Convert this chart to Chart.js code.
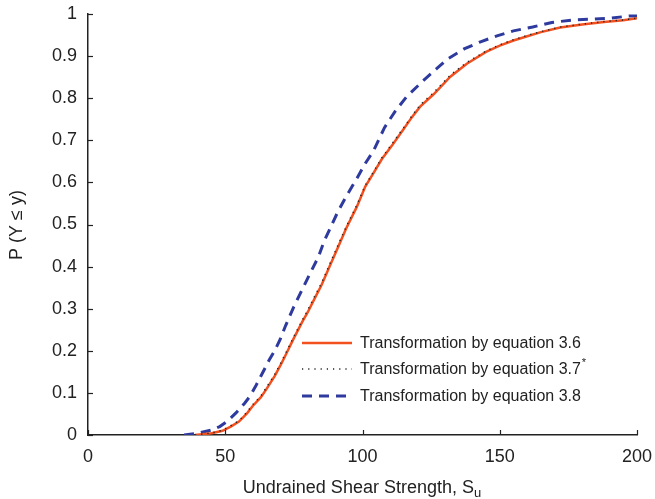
<!DOCTYPE html>
<html>
<head>
<meta charset="utf-8">
<script src="https://cdn.jsdelivr.net/npm/chart.js@4.4.1/dist/chart.umd.min.js"></script>
<style>
  html, body { margin: 0; padding: 0; background: #fff; }
  #wrap { width: 655px; height: 499px; }
</style>
</head>
<body>
<div id="wrap"><canvas id="cdf"></canvas></div>
<script>
// series: empirical CDFs of undrained shear strength
var eq36X = [39, 45, 49, 52, 55, 58, 60, 63, 65, 68, 70, 72, 75, 78, 80, 83, 85, 88, 91, 94, 98, 101, 104, 107, 111, 115, 118, 121, 126, 132, 138, 145, 150, 155, 160, 165, 172, 180, 188, 195, 200];
var eq36Y = [0, 0.004, 0.01, 0.02, 0.032, 0.052, 0.069, 0.09, 0.109, 0.14, 0.164, 0.19, 0.23, 0.268, 0.291, 0.33, 0.355, 0.4, 0.445, 0.49, 0.543, 0.59, 0.622, 0.655, 0.69, 0.727, 0.755, 0.78, 0.81, 0.851, 0.882, 0.91, 0.925, 0.937, 0.947, 0.957, 0.968, 0.975, 0.981, 0.985, 0.99];

var eq37X = [39, 45, 49, 52, 55, 58, 60, 63, 65, 68, 70, 72, 75, 78, 80, 83, 85, 88, 91, 94, 98, 101, 104, 107, 111, 115, 118, 121, 126, 132, 138, 145, 150, 155, 160, 165, 172, 180, 188, 195, 200];
var eq37Y = [0, 0.005, 0.011, 0.022, 0.034, 0.055, 0.072, 0.093, 0.113, 0.144, 0.168, 0.194, 0.234, 0.272, 0.296, 0.335, 0.36, 0.405, 0.45, 0.494, 0.547, 0.593, 0.625, 0.658, 0.694, 0.73, 0.758, 0.784, 0.814, 0.855, 0.885, 0.912, 0.927, 0.939, 0.949, 0.958, 0.969, 0.976, 0.982, 0.986, 0.99];

var eq38X = [35, 40, 45, 48, 51, 54, 57, 59, 61, 63, 66, 68, 70, 72, 75, 78, 81, 84, 86, 88, 91, 94, 98, 101, 104, 108, 112, 116, 122, 127, 131, 137, 143, 149, 155, 162, 169, 177, 184, 190, 197, 200];
var eq38Y = [0, 0.004, 0.012, 0.02, 0.034, 0.053, 0.075, 0.092, 0.115, 0.14, 0.178, 0.2, 0.227, 0.26, 0.305, 0.345, 0.385, 0.424, 0.46, 0.488, 0.53, 0.566, 0.61, 0.645, 0.675, 0.73, 0.77, 0.803, 0.841, 0.87, 0.893, 0.917, 0.934, 0.948, 0.96, 0.969, 0.98, 0.986, 0.988, 0.99, 0.995, 0.995];

var seriesNames = ["Transformation by equation 3.6", "Transformation by equation 3.7", "Transformation by equation 3.8"];
var xTicks = [0, 50, 100, 150, 200];
var yTicks = [0, 0.1, 0.2, 0.3, 0.4, 0.5, 0.6, 0.7, 0.8, 0.9, 1];

function pts(xs, ys) {
  return xs.map(function (x, i) { return { x: x, y: ys[i] }; });
}

var FONT = "'Liberation Sans', Arial, Helvetica, sans-serif";
var TXT = '#222';
var RED = '#f2501f';
var BLUE = '#2e3a9e';

// inward tick marks, axis titles and the in-plot legend
var extras = {
  id: 'extras',
  afterDraw: function (chart) {
    var c = chart.ctx, a = chart.chartArea;
    var xs = chart.scales.x, ys = chart.scales.y;
    c.save();
    c.strokeStyle = TXT;
    c.lineWidth = 1.2;
    xTicks.forEach(function (v) {
      var px = Math.round(xs.getPixelForValue(v)) + 0.5;
      c.beginPath(); c.moveTo(px, a.bottom); c.lineTo(px, a.bottom - 5); c.stroke();
    });
    yTicks.forEach(function (v) {
      var py = Math.round(ys.getPixelForValue(v)) + 0.5;
      c.beginPath(); c.moveTo(a.left, py); c.lineTo(a.left + 5, py); c.stroke();
    });

    // x title with subscript
    c.fillStyle = TXT;
    c.textBaseline = 'alphabetic';
    var main = 'Undrained Shear Strength, S';
    c.font = '13px ' + FONT;
    var subW = c.measureText('u').width;
    c.font = '18px ' + FONT;
    var mainW = c.measureText(main).width;
    var x0 = 362 - (mainW + subW) / 2;
    c.textAlign = 'left';
    c.fillText(main, x0, 493);
    c.font = '13px ' + FONT;
    c.fillText('u', x0 + mainW, 497);

    // y title
    c.save();
    c.translate(17, 225);
    c.rotate(-Math.PI / 2);
    c.textAlign = 'center';
    c.textBaseline = 'middle';
    c.font = '18px ' + FONT;
    c.fillText('P (Y \u2264 y)', 0, 0);
    c.restore();

    // legend
    var lx = 302, tx = 360, rows = [343, 369, 396];
    var styles = [
      { color: RED, width: 2.5, dash: [] },
      { color: '#222', width: 1.5, dash: [1.2, 5] },
      { color: BLUE, width: 3, dash: [10, 7] }
    ];
    rows.forEach(function (ry, i) {
      var s = styles[i];
      c.strokeStyle = s.color;
      c.lineWidth = s.width;
      c.setLineDash(s.dash);
      c.beginPath(); c.moveTo(lx, ry); c.lineTo(lx + 50, ry); c.stroke();
      c.setLineDash([]);
      c.fillStyle = TXT;
      c.font = '16px ' + FONT;
      c.textAlign = 'left';
      c.textBaseline = 'middle';
      c.fillText(seriesNames[i], tx, ry + 1);
      if (i === 1) {
        var w = c.measureText(seriesNames[i]).width;
        c.font = '11px ' + FONT;
        c.fillText('*', tx + w + 1, ry - 6);
      }
    });
    c.restore();
  }
};

var ctx = document.getElementById('cdf').getContext('2d');
var chart = new Chart(ctx, {
  type: 'line',
  data: {
    datasets: [
      {
        label: seriesNames[1],
        data: pts(eq37X, eq37Y),
        borderColor: '#222',
        borderWidth: 1.5,
        borderDash: [1.2, 5],
        pointRadius: 0,
        fill: false,
        order: 0
      },
      {
        label: seriesNames[0],
        data: pts(eq36X, eq36Y),
        borderColor: RED,
        borderWidth: 2.5,
        pointRadius: 0,
        fill: false,
        order: 1
      },
      {
        label: seriesNames[2],
        data: pts(eq38X, eq38Y),
        borderColor: BLUE,
        borderWidth: 3,
        borderDash: [10, 7],
        pointRadius: 0,
        fill: false,
        order: 2
      }
    ]
  },
  options: {
    responsive: true,
    maintainAspectRatio: false,
    animation: false,
    layout: { padding: { left: 0, top: 14, right: 18, bottom: 0 } },
    plugins: {
      legend: { display: false },
      tooltip: { enabled: false }
    },
    scales: {
      x: {
        type: 'linear',
        min: 0,
        max: 200,
        afterFit: function (s) { s.height = 64; s.paddingLeft = 0; s.paddingRight = 0; },
        afterBuildTicks: function (s) { s.ticks = xTicks.map(function (v) { return { value: v }; }); },
        grid: { display: false, drawTicks: false },
        border: { display: true, color: TXT, width: 1.5 },
        ticks: { color: TXT, font: { family: FONT, size: 18 }, padding: 11, maxRotation: 0 }
      },
      y: {
        type: 'linear',
        min: 0,
        max: 1,
        afterFit: function (s) { s.width = 88; s.paddingTop = 0; s.paddingBottom = 0; },
        afterBuildTicks: function (s) { s.ticks = yTicks.map(function (v) { return { value: v }; }); },
        grid: { display: false, drawTicks: false },
        border: { display: true, color: TXT, width: 1.5 },
        ticks: {
          color: TXT,
          font: { family: FONT, size: 18 },
          padding: 11,
          callback: function (v) { return String(+v.toFixed(1)); }
        }
      }
    }
  },
  plugins: [extras]
});
</script>
</body>
</html>
